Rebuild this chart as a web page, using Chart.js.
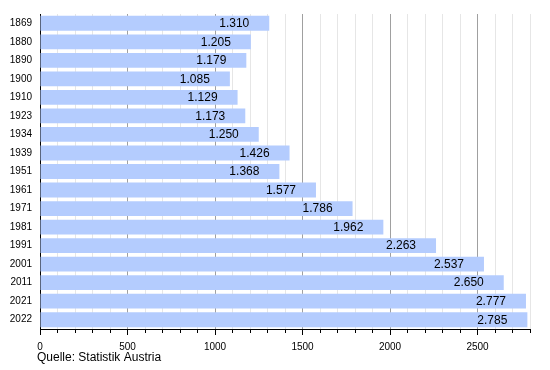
<!DOCTYPE html>
<html>
<head>
<meta charset="utf-8">
<script src="https://cdn.jsdelivr.net/npm/chart.js@4"></script>
<style>
html,body{margin:0;padding:0;background:#fff;}
#wrap{width:550px;height:370px;position:relative;}
</style>
</head>
<body>
<div id="wrap"><canvas id="c" width="550" height="370"></canvas></div>
<script>
const years = ['1869','1880','1890','1900','1910','1923','1934','1939','1951','1961','1971','1981','1991','2001','2011','2021','2022'];
const population = [1310,1205,1179,1085,1129,1173,1250,1426,1368,1577,1786,1962,2263,2537,2650,2777,2785];
const majorTicks = [0,500,1000,1500,2000,2500];
const minorTicks = [0,100,200,300,400,500,600,700,800,900,1000,1100,1200,1300,1400,1500,1600,1700,1800,1900,2000,2100,2200,2300,2400,2500,2600,2700,2800];
const xMin = 0;
const xMax = 2800;
const sourceText = 'Quelle: Statistik Austria';

const FONT = "'Liberation Sans', Arial, sans-serif";
const isMajor = (v) => majorTicks.indexOf(v) !== -1;

const valueLabels = {
  id: 'valueLabels',
  afterDatasetsDraw(chart) {
    const ctx = chart.ctx;
    const meta = chart.getDatasetMeta(0);
    ctx.save();
    ctx.font = '12px ' + FONT;
    ctx.fillStyle = '#000';
    ctx.textAlign = 'right';
    ctx.textBaseline = 'middle';
    meta.data.forEach((bar, i) => {
      const v = chart.data.datasets[0].data[i];
      ctx.fillText((v / 1000).toFixed(3), bar.x - 20, bar.y + 0.5);
    });
    ctx.restore();
  }
};

const sourceNote = {
  id: 'sourceNote',
  afterDraw(chart) {
    const ctx = chart.ctx;
    ctx.save();
    ctx.font = '12px ' + FONT;
    ctx.fillStyle = '#000';
    ctx.textAlign = 'left';
    ctx.textBaseline = 'middle';
    ctx.fillText(sourceText, 37, 358);
    ctx.restore();
  }
};

new Chart(document.getElementById('c'), {
  type: 'bar',
  data: {
    labels: years,
    datasets: [{
      data: population,
      backgroundColor: 'rgb(180,204,254)',
      borderWidth: 0,
      barPercentage: 1,
      categoryPercentage: 0.8,
      xAxisID: 'x'
    }]
  },
  plugins: [valueLabels, sourceNote],
  options: {
    indexAxis: 'y',
    responsive: false,
    animation: false,
    devicePixelRatio: 1,
    layout: { padding: { left: 0, right: 20, top: 10, bottom: 0 } },
    plugins: { legend: { display: false }, tooltip: { enabled: false }, title: { display: false } },
    scales: {
      xMinor: {
        type: 'linear',
        position: 'bottom',
        weight: 0,
        min: xMin, max: xMax,
        afterBuildTicks(scale) { scale.ticks = minorTicks.map(v => ({ value: v })); },
        afterFit(scale) { scale.height = 0; },
        ticks: { display: false, autoSkip: false },
        grid: {
          color: (c) => (c.tick && isMajor(c.tick.value)) ? 'rgba(0,0,0,0)' : '#e6e6e6',
          tickColor: (c) => (c.tick && isMajor(c.tick.value)) ? 'rgba(0,0,0,0)' : '#000',
          tickLength: 4,
          lineWidth: 1
        },
        border: { display: false }
      },
      x: {
        type: 'linear',
        position: 'bottom',
        weight: 1,
        min: xMin, max: xMax,
        afterBuildTicks(scale) { scale.ticks = majorTicks.map(v => ({ value: v })); },
        afterFit(scale) { scale.height = 41; },
        ticks: {
          autoSkip: false,
          maxRotation: 0,
          padding: 6,
          color: '#000',
          font: { family: FONT, size: 10 },
          callback: (v) => String(v)
        },
        grid: {
          color: (c) => (c.tick && c.tick.value === 0) ? 'rgba(0,0,0,0)' : '#a0a0a0',
          tickColor: '#000',
          tickLength: 6,
          lineWidth: 1
        },
        border: { display: true, color: '#000', width: 1 }
      },
      y: {
        type: 'category',
        position: 'left',
        afterFit(scale) { scale.width = 40; },
        ticks: {
          padding: 8,
          color: '#000',
          autoSkip: false,
          font: { family: FONT, size: 10 }
        },
        grid: { display: false, drawTicks: false },
        border: { display: true, color: '#000', width: 1 }
      }
    }
  }
});
</script>
</body>
</html>
